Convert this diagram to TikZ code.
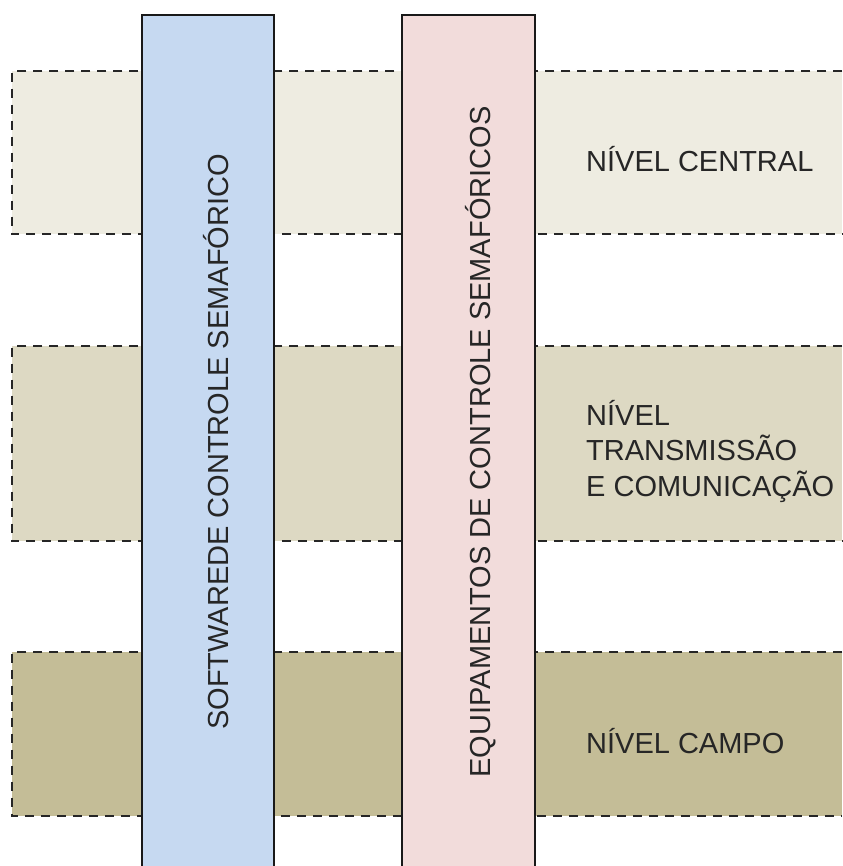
\documentclass[tikz,border=0pt]{standalone}
\usepackage{fontspec}
\setmainfont{Liberation Sans}
\usepackage{tikz}
\usetikzlibrary{shapes,positioning}
\definecolor{tan1}{HTML}{EEECE1}
\definecolor{tan2}{HTML}{DDD9C3}
\definecolor{tan3}{HTML}{C4BD97}
\definecolor{softblue}{HTML}{C6D9F1}
\definecolor{softpink}{HTML}{F2DCDB}
\tikzstyle{nivel} = [rectangle, draw=none, inner sep=0pt, anchor=north west, minimum width=830pt]
\tikzstyle{coluna} = [rectangle, draw=none, inner sep=0pt, anchor=north west, minimum height=851pt]
\tikzstyle{textonly} = [draw=none, fill=none, inner sep=0pt, text=black!85, font=\fontsize{29}{35.5}\selectfont]
\tikzstyle{dedge} = [draw, line width=2pt, black!85, dash pattern=on 9pt off 7pt]
\tikzstyle{cedge} = [draw, line width=2pt, black!90]

\begin{document}
\begin{tikzpicture}[x=1pt, y=-1pt]
\useasboundingbox (0,0) rectangle (842,866);

% levels =============================

% nodes
\node[nivel, fill=tan1, minimum height=163pt] (niv1) at (12,71) {};
\node[nivel, fill=tan2, minimum height=195pt] (niv2) at (12,346) {};
\node[nivel, fill=tan3, minimum height=164pt] (niv3) at (12,652) {};

% edges
\path[dedge] (niv1.north east) -- (niv1.north west) -- (niv1.south west) -- (niv1.south east);
\path[dedge] (niv2.north east) -- (niv2.north west) -- (niv2.south west) -- (niv2.south east);
\path[dedge] (niv3.north east) -- (niv3.north west) -- (niv3.south west) -- (niv3.south east);

% columns ============================

% nodes
\node[coluna, fill=softblue, minimum width=132pt] (col1) at (142,15) {};
\node[coluna, fill=softpink, minimum width=133pt] (col2) at (402,15) {};

% edges
\path[cedge] (col1.south west) -- (col1.north west) -- (col1.north east) -- (col1.south east);
\path[cedge] (col2.south west) -- (col2.north west) -- (col2.north east) -- (col2.south east);

% labels
\node[textonly, rotate=90, anchor=base] (software) at (228,442) {SOFTWAREDE CONTROLE SEMAFÓRICO};
\node[textonly, rotate=90, anchor=base] (equip) at (490,442) {EQUIPAMENTOS DE CONTROLE SEMAFÓRICOS};
\node[textonly, anchor=base west] (central) at (586,172) {NÍVEL CENTRAL};
\node[textonly, anchor=base west, align=left] (transm) at (586,496) {NÍVEL\\TRANSMISSÃO\\E COMUNICAÇÃO};
\node[textonly, anchor=base west] (campo) at (586,753) {NÍVEL CAMPO};

\end{tikzpicture}
\end{document}
